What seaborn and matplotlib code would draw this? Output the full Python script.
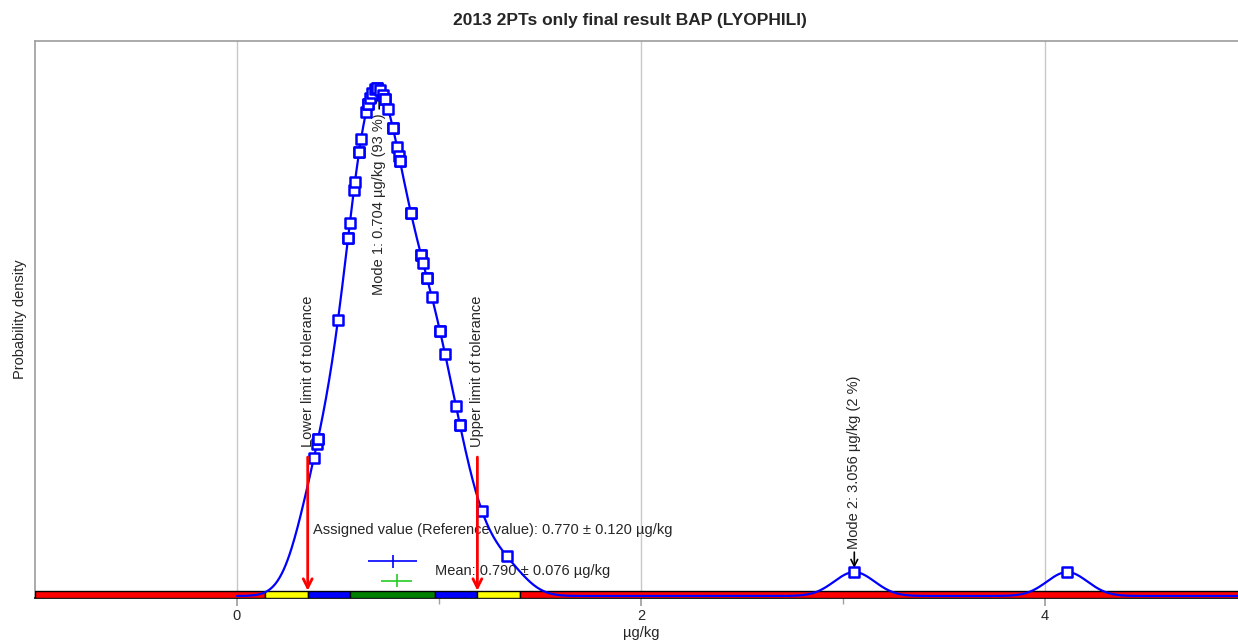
import numpy as np
import matplotlib
matplotlib.use("Agg")
import matplotlib.pyplot as plt
import matplotlib.transforms as mtransforms
import seaborn as sns

# participant results (µg/kg), read off the markers; several markers near the
# top of the peak overlap, so some values appear twice
results = np.array([0.381, 0.396, 0.401, 0.401, 0.500, 0.550, 0.550, 0.559, 0.579, 0.584,
                    0.604, 0.604, 0.614, 0.639, 0.649, 0.649, 0.658, 0.668, 0.683, 0.693,
                    0.693, 0.708, 0.723, 0.733, 0.733, 0.748, 0.772, 0.772, 0.792, 0.802,
                    0.807, 0.807, 0.861, 0.861, 0.911, 0.911, 0.921, 0.941, 0.941, 0.965,
                    1.005, 1.005, 1.030, 1.084, 1.104, 1.104, 1.213, 1.337, 3.056, 4.110])
bandwidth = 0.10

assigned = 0.770
assigned_u = 0.120
mean = 0.790
mean_u = 0.076
lower_limit = 0.35
upper_limit = 1.19
mode_x = [0.704, 3.056]
mode_pct = [93, 2]

band_edges = [-1.0, 0.14, 0.35, 0.56, 0.98, 1.19, 1.40, 5.0]
band_colors = ["#ff0000", "#ffff00", "#0000ff", "#008000", "#0000ff", "#ffff00", "#ff0000"]

sns.set_theme(style="white")
plt.rcParams["font.family"] = ["Liberation Sans", "DejaVu Sans"]
fs = 10.5

fig = plt.figure(figsize=(12.38, 6.44), dpi=100)
ax = fig.add_axes([35 / 1238, 1 - 598 / 644, 1212 / 1238, 557 / 644])
trans = mtransforms.blended_transform_factory(ax.transData, ax.transAxes)

# density curve
sns.kdeplot(x=results, bw_method=bandwidth / np.std(results, ddof=1), cut=40, clip=(0, 5),
            gridsize=1000, color="#0000ff", lw=1.6, ax=ax, zorder=4)
curve_x = ax.lines[0].get_xdata()
curve_y = ax.lines[0].get_ydata()
peak = curve_y.max()

diff = (results[:, None] - results[None, :]) / bandwidth
dens = np.exp(-0.5 * diff ** 2).sum(axis=1) / (len(results) * bandwidth * np.sqrt(2 * np.pi))
sns.scatterplot(x=results, y=dens, marker="s", s=42, color="white", edgecolor="#0000ff",
                linewidth=1.8, ax=ax, zorder=5)

ax.set_xlim(-1, 5)
ax.set_ylim(-peak * 2 / 508, peak * 555 / 508)

# tolerance band
for lo, hi, c in zip(band_edges[:-1], band_edges[1:], band_colors):
    ax.axvspan(lo, hi, ymin=0, ymax=0.013, facecolor=c, edgecolor="black", lw=1, zorder=3)

# tolerance limits
for lim, label in [(lower_limit, "Lower limit of tolerance"), (upper_limit, "Upper limit of tolerance")]:
    ax.annotate("", xy=(lim, 0.013), xycoords=trans, xytext=(lim, 0.253), textcoords=trans,
                arrowprops=dict(arrowstyle="->", color="red", lw=2, mutation_scale=16,
                                shrinkA=0, shrinkB=0), zorder=6)
    ax.text(lim, 0.271, label, transform=trans, rotation=90, ha="center", va="bottom", fontsize=fs)

# modes
d1 = np.interp(mode_x[0], curve_x, curve_y)
ax.annotate("", xy=(mode_x[0], d1), xytext=(0, -20), textcoords="offset pixels",
            arrowprops=dict(arrowstyle="->", color="black", lw=1.2, shrinkA=0, shrinkB=4))
ax.annotate(f"Mode 1: {mode_x[0]:.3f} µg/kg ({mode_pct[0]} %)", xy=(mode_x[0], d1),
            xytext=(0, -25), textcoords="offset pixels", rotation=90, ha="center", va="top", fontsize=fs)
d2 = np.interp(mode_x[1], curve_x, curve_y)
ax.annotate("", xy=(mode_x[1], d2), xytext=(0, 20), textcoords="offset pixels",
            arrowprops=dict(arrowstyle="->", color="black", lw=1.2, shrinkA=0, shrinkB=3))
ax.annotate(f"Mode 2: {mode_x[1]:.3f} µg/kg ({mode_pct[1]} %)", xy=(mode_x[1], d2),
            xytext=(0, 23), textcoords="offset pixels", rotation=90, ha="center", va="bottom", fontsize=fs)

# assigned value and mean
ax.text(0.376, 0.122, f"Assigned value (Reference value): {assigned:.3f} ± {assigned_u:.3f} µg/kg",
        transform=trans, ha="left", va="center", fontsize=fs)
ax.errorbar([assigned], [0.066], xerr=[assigned_u], yerr=[0.012], fmt="none", ecolor="#0000ff",
            elinewidth=1.2, transform=trans)
ax.text(0.98, 0.048, f"Mean: {mean:.3f} ± {mean_u:.3f} µg/kg",
        transform=trans, ha="left", va="center", fontsize=fs)
ax.errorbar([mean], [0.031], xerr=[mean_u], yerr=[0.012], fmt="none", ecolor="#22cc22",
            elinewidth=1.2, transform=trans)

# axes styling
ax.set_xticks([0, 2, 4])
ax.set_xticklabels(["0", "2", "4"])
ax.set_xticks([1, 3], minor=True)
ax.set_yticks([])
ax.xaxis.grid(True, which="major", color="#c8c8c8", lw=1)
ax.tick_params(axis="x", which="major", bottom=True, length=6, color="#a0a0a0", labelsize=fs, pad=2)
ax.tick_params(axis="x", which="minor", bottom=True, length=4, color="#a0a0a0")
for side in ["left", "top"]:
    ax.spines[side].set_color("#a0a0a0")
ax.spines["bottom"].set_color("black")
ax.spines["right"].set_visible(False)
ax.set_xlabel("µg/kg", fontsize=fs, labelpad=2)
ax.set_ylabel("Probability density", fontsize=fs, labelpad=6)

fig.text(630 / 1238, 1 - 21 / 644, "2013 2PTs only final result BAP (LYOPHILI)",
         ha="center", va="center", fontsize=12.5, fontweight="bold")

fig.savefig("out.png", dpi=100)
